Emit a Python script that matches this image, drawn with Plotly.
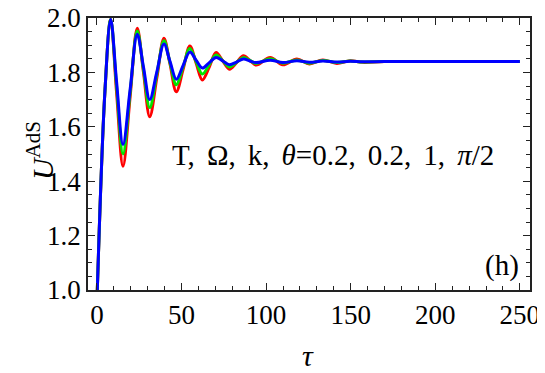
import plotly.graph_objects as go

# tau positions: rise, then peaks / troughs with the crossings between them, then the flat tail
tau = [0.0, 4.7, 8.1, 11.6, 15.4, 19.6, 23.8, 27.5, 31.2, 35.4, 39.6, 43.2, 46.9,
       50.9, 54.9, 58.6, 62.3, 66.4, 70.4, 74.4, 78.3, 82.5, 86.6, 90.4, 94.1,
       102.4, 109.9, 118.2, 125.6, 133.5, 141.8, 149.7, 157.0, 170.0, 200.0,
       230.0, 250.0]

u_red = [0.96, 1.73, 1.995, 1.725, 1.455, 1.71, 1.962, 1.80, 1.637, 1.78, 1.926,
         1.83, 1.729, 1.81, 1.897, 1.835, 1.772, 1.82, 1.873, 1.842, 1.812, 1.836,
         1.861, 1.844, 1.827, 1.855, 1.828, 1.849, 1.831, 1.846, 1.833, 1.843,
         1.837, 1.840, 1.840, 1.840, 1.840]
u_green = [0.96, 1.73, 1.995, 1.748, 1.500, 1.726, 1.952, 1.81, 1.671, 1.794, 1.916,
           1.835, 1.755, 1.82, 1.888, 1.84, 1.794, 1.829, 1.864, 1.842, 1.820, 1.837,
           1.855, 1.844, 1.833, 1.850, 1.834, 1.846, 1.834, 1.844, 1.836, 1.842,
           1.838, 1.840, 1.840, 1.840, 1.840]
u_blue = [0.96, 1.73, 1.995, 1.765, 1.535, 1.737, 1.940, 1.82, 1.700, 1.802, 1.904,
          1.84, 1.775, 1.825, 1.875, 1.845, 1.816, 1.836, 1.855, 1.842, 1.828, 1.838,
          1.849, 1.842, 1.836, 1.845, 1.836, 1.843, 1.837, 1.842, 1.838, 1.841,
          1.839, 1.840, 1.840, 1.840, 1.840]

series = [("red", u_red, "#ff0000"), ("green", u_green, "#00e600"), ("blue", u_blue, "#0000ff")]

FONT = "Liberation Serif"
# the page body keeps its default 8px margin, so the figure is a bit smaller than the window
W, H = 537, 365
L, R, T, B = 80, 15, 10, 83
OFF = 8

fig = go.Figure()
for name, vals, col in series:
    fig.add_trace(go.Scatter(
        x=tau, y=vals, mode="lines", name=name,
        line=dict(color=col, width=3, shape="spline", smoothing=1.0),
        showlegend=False,
    ))

axis_common = dict(
    showline=True, linecolor="#222", linewidth=1.5, mirror="allticks",
    ticks="inside", ticklen=7, tickwidth=1.2, tickcolor="#222",
    showgrid=False, zeroline=False, automargin=False,
    ticklabeloverflow="allow",
    tickfont=dict(family=FONT, size=27, color="black"),
)

fig.update_xaxes(
    range=[-5.3, 256], tickvals=[0, 50, 100, 150, 200, 250],
    minor=dict(dtick=10, tick0=0, ticks="inside", ticklen=4, tickcolor="#222", tickwidth=1),
    **axis_common,
)
fig.update_yaxes(
    range=[1.0, 2.0], tickvals=[1.0, 1.2, 1.4, 1.6, 1.8, 2.0], tickformat=".1f",
    minor=dict(dtick=0.05, tick0=1.0, ticks="inside", ticklen=4, tickcolor="#222", tickwidth=1),
    **axis_common,
)

pw, ph = W - L - R, H - T - B


def px_to_paper(px, py):
    # window pixel -> paper coordinates
    return (px - OFF - L) / pw, (H - B - (py - OFF)) / ph


# axis titles
tx, ty = px_to_paper(308, 355)
fig.add_annotation(
    x=tx, y=ty, xref="paper", yref="paper",
    xanchor="center", yanchor="middle", showarrow=False,
    text="<i>τ</i>", font=dict(family=FONT, size=30, color="black"),
)
ux, uy = px_to_paper(40, 151)
fig.add_annotation(
    x=ux, y=uy, xref="paper", yref="paper",
    xanchor="center", yanchor="middle", showarrow=False, textangle=-90,
    text="<i>U</i><sup>AdS</sup>", font=dict(family=FONT, size=30, color="black"),
)

sp = "\u2006"
fig.add_annotation(
    x=43, y=1.495, xref="x", yref="y", xanchor="left", yanchor="middle",
    text=f"T,{sp} Ω,{sp} k,{sp} <i>θ</i>=0.2,{sp} 0.2,{sp} 1,{sp} <i>π</i>/2",
    showarrow=False,
    font=dict(family=FONT, size=29, color="black"),
)
fig.add_annotation(
    x=250.5, y=1.09, xref="x", yref="y", xanchor="right", yanchor="middle",
    text="(h)", showarrow=False,
    font=dict(family=FONT, size=29, color="black"),
)

fig.update_layout(
    width=W, height=H,
    margin=dict(l=L, r=R, t=T, b=B),
    paper_bgcolor="white", plot_bgcolor="white",
)

fig.write_html("out.html")
